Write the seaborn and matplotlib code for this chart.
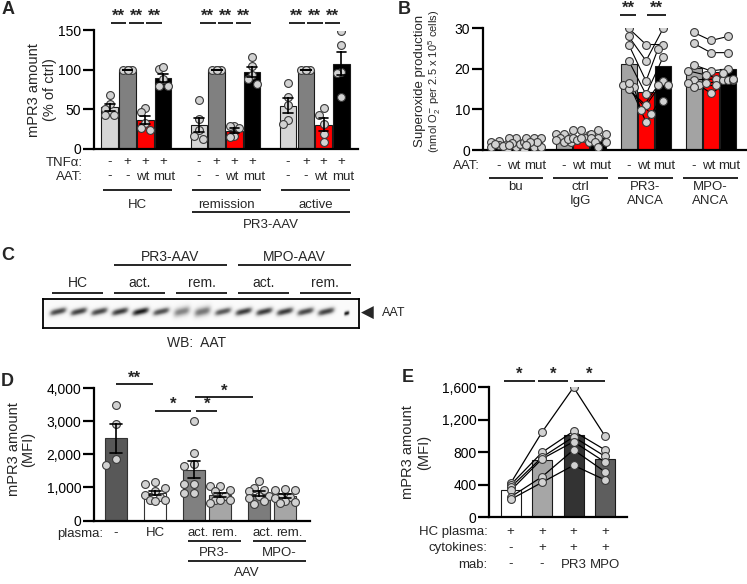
import numpy as np
import pandas as pd
import matplotlib
matplotlib.use("Agg")
import matplotlib.pyplot as plt
from matplotlib.transforms import Affine2D, blended_transform_factory
import seaborn as sns

sns.set_theme(style="ticks")
plt.rcParams['font.family'] = ['Liberation Sans', 'DejaVu Sans']
plt.rcParams['mathtext.fontset'] = 'custom'
plt.rcParams['mathtext.rm'] = 'Liberation Sans'

# ======================= DATA =======================
# Panel A: mPR3 amount (% of ctrl), 4 conditions x 3 donor groups
a_groups = ["HC", "remission", "active"]
a_tnf = ["-", "+", "+", "+"]
a_aat = ["-", "-", "wt", "mut"]
a_hc = [[68, 57, 50, 43, 43], [100, 100, 100, 100, 100],
        [51, 47, 33, 26, 24], [101, 103, 88, 79, 79]]
a_rem = [[62, 38, 24, 15.5, 12], [100, 100, 100, 100, 100],
         [29, 28, 26, 16, 15], [116, 105, 94, 88, 82]]
a_act = [[83, 66, 55, 36, 31], [100, 100, 100, 100, 100],
         [52, 42, 31, 19, 8], [149, 131, 97, 96, 66]]
a_sig = ["**", "**", "**"]

# Panel B: superoxide production (paired donors)
b_groups = ["bu", "ctrl\nIgG", "PR3-\nANCA", "MPO-\nANCA"]
b_aat = ["-", "wt", "mut"]
b_bu = [[1.9, 0.8, 0.1, 1.5, 2.2, 1.2, 1.0, 1.5],
        [2.9, 2.9, 0.8, 0.1, 1.5, 2.0, 1.8, 1.2],
        [2.9, 2.9, 2.9, 0.8, 0.8, 1.9, 2.0, 1.2]]
b_ctrl = [[4.0, 4.0, 2.9, 1.9, 1.9, 3.2, 2.5, 2.6],
          [5.0, 5.0, 3.7, 2.9, 2.9, 1.9, 2.5, 3.0],
          [5.0, 4.0, 4.0, 2.9, 2.9, 1.9, 1.9, 0.8]]
b_pr3 = [[30, 28, 26, 22, 16, 15.5, 15, 16.5],
         [26, 22, 17, 13.7, 11, 9.9, 8.8, 6.9],
         [26, 30, 25, 23, 17, 16, 16, 12]]
b_mpo = [[29, 26.3, 21, 19.5, 17.3, 16, 16.5, 15.5],
         [27, 24, 19.5, 18.5, 17.5, 14, 16.4, 16],
         [28, 24, 20, 17.3, 17.3, 17.3, 17.5, 19]]
b_sig = ["**", "**"]

# Panel C: western blot band intensities (15 lanes)
c_groups = ["HC", "act.", "rem.", "act.", "rem."]
c_super = ["PR3-AAV", "MPO-AAV"]
c_band = [0.78, 0.80, 0.78, 0.82, 0.92, 0.75, 0.55, 0.60, 0.72,
          0.82, 0.82, 0.82, 0.78, 0.80, 0.95]

# Panel D: mPR3 amount (MFI) after plasma incubation
d_labels = ["-", "HC", "act.", "rem.", "act.", "rem."]
d_none = [3500, 2900, 1850, 1680]
d_hc = [1150, 1100, 980, 900, 760, 700, 630, 620, 600]
d_pr3_act = [2990, 2050, 1640, 1710, 1100, 1100, 830, 830]
d_pr3_rem = [1050, 1030, 910, 880, 730, 630, 630, 620, 530]
d_mpo_act = [1200, 980, 930, 900, 730, 730, 680, 580, 500]
d_mpo_rem = [950, 930, 920, 700, 720, 690, 580, 530, 560]

# Panel E: mPR3 amount (MFI), paired donors
e_hc_plasma = ["+", "+", "+", "+"]
e_cytokines = ["-", "+", "+", "+"]
e_mab = ["-", "-", "PR3", "MPO"]
e_ctrl = [420, 400, 370, 330, 250, 220]
e_cyt = [1050, 800, 740, 720, 500, 430]
e_pr3 = [1600, 1060, 990, 930, 830, 640]
e_mpo = [1000, 830, 750, 680, 560, 460]

# ======================= LAYOUT =======================
W, H = 747, 584
fig = plt.figure(figsize=(W / 100, H / 100), dpi=100)
PX = Affine2D().scale(1 / W, -1 / H).translate(0, 1) + fig.transFigure

TICK = 10
LAB = 10.5
CAT = 9.5
STAR = 12
DOT_FC = '#d2d2d2'
DOT_EC = '#3a3a3a'
DOT_S = 32
DIAM = 8.0


def add_ax(x0, y0, x1, y1):
    ax = fig.add_axes([x0 / W, 1 - y1 / H, (x1 - x0) / W, (y1 - y0) / H])
    ax.set_facecolor('none')
    return ax


def style(ax, yticks, ylabels):
    sns.despine(ax=ax)
    for s in ('left', 'bottom'):
        ax.spines[s].set_linewidth(1.6)
        ax.spines[s].set_color('black')
    ax.set_yticks(yticks)
    ax.set_yticklabels(ylabels)
    ax.tick_params(axis='y', direction='out', length=8, width=1.6,
                   labelsize=TICK, pad=1.2, colors='black')
    ax.set_xticks([])
    ax.tick_params(axis='x', length=0, labelbottom=False)
    ax.set_xlabel('')
    ax.set_ylabel('')


def spread(vals, unit_px, val_px, step, maxoff):
    vals = np.asarray(vals, float)
    order = np.argsort(-vals, kind='stable')
    cands = [0.0]
    k = 1
    while k * step <= maxoff + 1e-9:
        cands += [-k * step, k * step]
        k += 1
    offs = np.zeros(len(vals))
    placed = []
    for i in order:
        best, bestd = 0.0, -1.0
        for c in cands:
            if placed:
                d = min(np.hypot((c - po) * unit_px, (vals[i] - pv) * val_px)
                        for po, pv in placed)
            else:
                d = 1e9
            if d >= DIAM:
                best = c
                break
            if d > bestd:
                best, bestd = c, d
        offs[i] = best
        placed.append((best, vals[i]))
    return offs


def bar(ax, x, vals, color, width, err=True, capsize=0.5, ec='#1a1a1a'):
    n0 = len(ax.lines)
    sns.barplot(x=np.full(len(vals), float(x)), y=vals, native_scale=True,
                orient='x', width=width, color=color, saturation=1,
                edgecolor=ec, linewidth=0.8,
                errorbar='se' if err else None, capsize=capsize,
                err_kws={'color': 'black', 'linewidth': 1.2}, ax=ax, zorder=1)
    for ln in ax.lines[n0:]:
        ln.set_zorder(6)


def dots(ax, xs, ys):
    sns.scatterplot(x=xs, y=ys, s=DOT_S, color=DOT_FC, edgecolor=DOT_EC,
                    linewidth=0.8, ax=ax, zorder=4, legend=False)


def ptxt(x, y, s, **kw):
    kw.setdefault('ha', 'center')
    kw.setdefault('va', 'center')
    fig.text(x, y, s, transform=PX, **kw)


def dtxt(ax, x, ypx, s, **kw):
    kw.setdefault('ha', 'center')
    kw.setdefault('va', 'center')
    tr = blended_transform_factory(ax.transData, PX)
    ax.text(x, ypx, s, transform=tr, clip_on=False, **kw)


def dline(ax, x0, x1, ypx, lw=1.2, color='black'):
    tr = blended_transform_factory(ax.transData, PX)
    ax.plot([x0, x1], [ypx, ypx], transform=tr, color=color, lw=lw,
            clip_on=False, solid_capstyle='butt', zorder=7)


# nudges so that "wt" and "mut" do not touch
AAT_NUDGE = {"-": 0.0, "wt": -0.14, "mut": 0.08}

# ======================= PANEL A =======================
A_BOX = (94, 30.5, 358, 148.5)
axA = add_ax(*A_BOX)
A_XL = (-0.88, 13.93)
a_colors = ['#d6d6d6', '#808080', '#ff0000', '#000000']
a_unit = (A_BOX[2] - A_BOX[0]) / (A_XL[1] - A_XL[0])
a_vpx = (A_BOX[3] - A_BOX[1]) / 150
for g, grp in enumerate([a_hc, a_rem, a_act]):
    for b, vals in enumerate(grp):
        x = g * 5 + b
        bar(axA, x, vals, a_colors[b], 0.92, err=True, capsize=0.55)
        offs = spread(vals, a_unit, a_vpx, 0.25, 0.3)
        dots(axA, x + offs, vals)
    for b in range(4):
        x = g * 5 + b
        dtxt(axA, x, 162.5, a_tnf[b], fontsize=CAT)
        dtxt(axA, x + AAT_NUDGE[a_aat[b]], 176.5, a_aat[b], fontsize=CAT)
    for p, sg in enumerate(a_sig):
        mid = g * 5 + p + 0.5
        dline(axA, mid - 0.44, mid + 0.44, 23)
        dtxt(axA, mid, 16.5, sg, fontsize=STAR, fontweight='bold')
    dline(axA, g * 5 - 0.4, g * 5 + 3.5, 189.5)
    dtxt(axA, g * 5 + 1.55, 204.5, a_groups[g], fontsize=CAT)
dline(axA, 5 - 0.4, 13.5, 212)
dtxt(axA, (5 - 0.4 + 13.5) / 2, 224.5, "PR3-AAV", fontsize=CAT)
ptxt(83, 162.5, "TNFα:", ha='right', fontsize=CAT)
ptxt(83, 176.5, "AAT:", ha='right', fontsize=CAT)
style(axA, [0, 50, 100, 150], ["0", "50", "100", "150"])
axA.set_xlim(*A_XL)
axA.set_ylim(0, 150)
ptxt(34, 90, "mPR3 amount", rotation=90, fontsize=LAB)
ptxt(50, 90, "(% of ctrl)", rotation=90, fontsize=LAB)

# ======================= PANEL B =======================
B_BOX = (483, 28.3, 746, 150)
axB = add_ax(*B_BOX)
B_XL = (-0.92, 14.28)
b_colors = ['#a3a3a3', '#ff0000', '#000000']
b_unit = (B_BOX[2] - B_BOX[0]) / (B_XL[1] - B_XL[0])
b_vpx = (B_BOX[3] - B_BOX[1]) / 30
for g, grp in enumerate([b_bu, b_ctrl, b_pr3, b_mpo]):
    g0 = g * 3.75
    paired = g >= 2
    xs_all = []
    for b, vals in enumerate(grp):
        x = g0 + b
        bar(axB, x, vals, b_colors[b], 0.93, err=False)
        if paired:
            offs = spread(vals, b_unit, b_vpx, 0.3, 0.3)
        else:
            offs = spread(vals, b_unit, b_vpx, 0.22, 0.45)
        xs_all.append(x + offs)
        dtxt(axB, x + AAT_NUDGE[b_aat[b]], 165.7, b_aat[b], fontsize=CAT)
    if paired:
        n = len(grp[0])
        df = pd.DataFrame({
            'x': np.concatenate(xs_all),
            'y': np.concatenate([np.asarray(v, float) for v in grp]),
            'subj': np.tile(np.arange(n), 3),
        })
        sns.lineplot(data=df, x='x', y='y', units='subj', estimator=None,
                     sort=False, color='black', linewidth=0.8, ax=axB,
                     zorder=3, legend=False)
    for b, vals in enumerate(grp):
        dots(axB, xs_all[b], vals)
    dline(axB, g0 - 0.6, g0 + 2.55, 177.7)
    dtxt(axB, g0 + 0.97, 181.5, b_groups[g], fontsize=CAT, va='top',
         linespacing=1.2)
g0 = 2 * 3.75
dline(axB, g0 - 0.5, g0 + 0.42, 15)
dtxt(axB, g0 - 0.04, 8.5, b_sig[0], fontsize=STAR, fontweight='bold')
dline(axB, g0 + 1.05, g0 + 2.15, 15)
dtxt(axB, g0 + 1.6, 8.5, b_sig[1], fontsize=STAR, fontweight='bold')
ptxt(480, 165.7, "AAT:", ha='right', fontsize=CAT)
style(axB, [0, 10, 20, 30], ["0", "10", "20", "30"])
axB.set_xlim(*B_XL)
axB.set_ylim(0, 30)
ptxt(420, 81, "Superoxide production", rotation=90, fontsize=9.5)
ptxt(435, 81, r"(nmol O$_2^{\mathsf{-}}$ per 2.5 x 10$^5$ cells)",
     rotation=90, fontsize=8)

# ======================= PANEL C (blot) =======================
C_BOX = (43, 299, 359, 328)
axC = add_ax(*C_BOX)
C_XL = (-0.727, 14.58)
nx, ny = 640, 70
gx = np.linspace(C_XL[0], C_XL[1], nx)
gy = np.linspace(1, 0, ny)
GX, GY = np.meshgrid(gx, gy)
img = np.full(GX.shape, 0.04)
yc = 1 - (311.5 - C_BOX[1]) / (C_BOX[3] - C_BOX[1])
for i, inten in enumerate(c_band):
    hw = 0.13 if i == 14 else 0.42
    sy = 0.12 if i in (6, 7) else 0.085
    if i == 14:
        sy = 0.055
    dx = GX - i
    ycen = yc + 0.16 * dx - (0.06 if i == 14 else 0.0)
    prof = np.exp(-np.abs(dx / hw) ** 4) * np.exp(-0.5 * ((GY - ycen) / sy) ** 2)
    img += inten * prof
img = np.clip(img, 0, 1)
axC.imshow(img, cmap='Greys', vmin=0, vmax=1.05, aspect='auto',
           extent=(C_XL[0], C_XL[1], 0, 1), interpolation='bilinear')
axC.set_xlim(*C_XL)
axC.set_ylim(0, 1)
axC.set_xticks([])
axC.set_yticks([])
for s in axC.spines.values():
    s.set_visible(True)
    s.set_linewidth(1.3)
    s.set_color('black')
for k, lab in enumerate(c_groups):
    l0 = k * 3
    dline(axC, l0 - 0.3, l0 + 2.2, 293.3)
    dtxt(axC, l0 + 0.95, 283.3, lab, fontsize=CAT + 0.5)
for k, lab in enumerate(c_super):
    l0 = 3 + k * 6
    dline(axC, l0 - 0.3, l0 + 5.2, 265)
    dtxt(axC, l0 + 2.45, 256.7, lab, fontsize=CAT + 0.5)
ptxt(361, 312.5, "◀", ha='left', fontsize=12, family=['DejaVu Sans'])
ptxt(382, 312.5, "AAT", ha='left', fontsize=9)
ptxt(197, 343, "WB:  AAT", fontsize=CAT + 0.5)

# ======================= PANEL D =======================
D_BOX = (94, 388, 310, 520.5)
axD = add_ax(*D_BOX)
D_XL = (-0.846, 7.46)
d_pos = [0, 1.5, 3, 4, 5.5, 6.5]
d_colors = ['#585858', '#ffffff', '#808080', '#a6a6a6', '#7c7c7c', '#a6a6a6']
d_unit = (D_BOX[2] - D_BOX[0]) / (D_XL[1] - D_XL[0])
d_vpx = (D_BOX[3] - D_BOX[1]) / 4000
for k, vals in enumerate([d_none, d_hc, d_pr3_act, d_pr3_rem, d_mpo_act, d_mpo_rem]):
    x = d_pos[k]
    bar(axD, x, vals, d_colors[k], 0.83, err=True, capsize=0.45,
        ec='#333333')
    offs = spread(vals, d_unit, d_vpx, 0.2, 0.4)
    dots(axD, x + offs, vals)
    dtxt(axD, x + (0.15 if k >= 2 else 0), 533.5, d_labels[k], fontsize=CAT)
ptxt(103, 533.5, "plasma:", ha='right', fontsize=CAT)
d_sig = [((d_pos[0], d_pos[1] - 0.09), 384.3, "**"),
         ((d_pos[1], d_pos[2] - 0.12), 410.7, "*"),
         ((d_pos[2] + 0.08, d_pos[3] - 0.1), 410.7, "*"),
         ((d_pos[2] + 0.04, d_pos[4] - 0.24), 397.3, "*")]
for (x0, x1), yp, sg in d_sig:
    dline(axD, x0, x1, yp)
    dtxt(axD, (x0 + x1) / 2, yp - 6.5, sg, fontsize=STAR, fontweight='bold')
for k, lab in enumerate(["PR3-", "MPO-"]):
    x0 = d_pos[2 + 2 * k] - 0.23
    x1 = d_pos[3 + 2 * k] + 0.8
    dline(axD, x0, x1, 541)
    dtxt(axD, (x0 + x1) / 2, 552.5, lab, fontsize=CAT)
dline(axD, d_pos[2] - 0.23, d_pos[5] + 0.8, 561)
dtxt(axD, (d_pos[2] - 0.23 + d_pos[5] + 0.8) / 2, 572.5, "AAV", fontsize=CAT)
style(axD, [0, 1000, 2000, 3000, 4000], ["0", "1,000", "2,000", "3,000", "4,000"])
axD.set_xlim(*D_XL)
axD.set_ylim(0, 4000)
ptxt(14, 449, "mPR3 amount", rotation=90, fontsize=LAB)
ptxt(28, 449, "(MFI)", rotation=90, fontsize=LAB)

# ======================= PANEL E =======================
E_BOX = (489.3, 387.3, 626.7, 517.3)
axE = add_ax(*E_BOX)
E_XL = (-0.68, 3.69)
e_colors = ['#ffffff', '#a6a6a6', '#333333', '#5e5e5e']
e_sets = [e_ctrl, e_cyt, e_pr3, e_mpo]
for k, vals in enumerate(e_sets):
    bar(axE, k, vals, e_colors[k], 0.64, err=False, ec='#1a1a1a')
n = len(e_ctrl)
dfE = pd.DataFrame({
    'x': np.repeat(np.arange(4), n).astype(float),
    'y': np.concatenate([np.asarray(v, float) for v in e_sets]),
    'subj': np.tile(np.arange(n), 4),
})
sns.lineplot(data=dfE, x='x', y='y', units='subj', estimator=None, sort=False,
             color='black', linewidth=0.9, ax=axE, zorder=3, legend=False)
dots(axE, dfE['x'].values, dfE['y'].values)
for k in range(4):
    dtxt(axE, k, 531.5, e_hc_plasma[k], fontsize=CAT)
    dtxt(axE, k, 548, e_cytokines[k], fontsize=CAT)
    dtxt(axE, k, 564.5, e_mab[k], fontsize=CAT)
ptxt(487.3, 531.5, "HC plasma:", ha='right', fontsize=CAT)
ptxt(487.3, 548, "cytokines:", ha='right', fontsize=CAT)
ptxt(487.3, 564.5, "mab:", ha='right', fontsize=CAT)
for x0, x1 in [(-0.22, 0.76), (0.86, 1.83), (2.02, 3.0)]:
    dline(axE, x0, x1, 380.7)
    dtxt(axE, (x0 + x1) / 2, 374, "*", fontsize=STAR, fontweight='bold')
style(axE, [0, 400, 800, 1200, 1600], ["0", "400", "800", "1,200", "1,600"])
axE.set_xlim(*E_XL)
axE.set_ylim(0, 1600)
ptxt(407.5, 452, "mPR3 amount", rotation=90, fontsize=LAB)
ptxt(424, 452, "(MFI)", rotation=90, fontsize=LAB)

# ======================= PANEL LABELS =======================
for lab, (x, y) in {"A": (8, 10), "B": (404, 10), "C": (8, 256),
                    "D": (7, 381), "E": (408, 377)}.items():
    ptxt(x, y, lab, fontsize=13, fontweight='bold')

fig.savefig("out.png", dpi=100)
